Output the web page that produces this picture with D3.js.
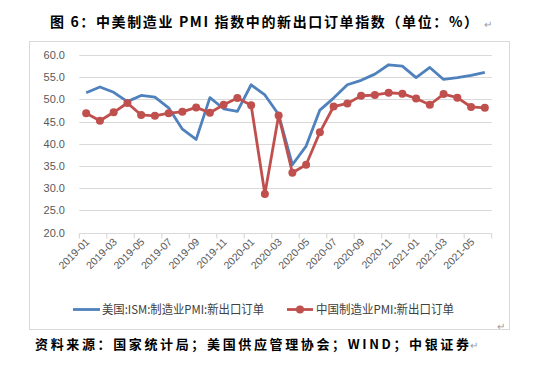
<!DOCTYPE html>
<html>
<head>
<meta charset="utf-8">
<script src="https://cdn.jsdelivr.net/npm/d3@7"></script>
<style>
  body { margin: 0; background: #fff; }
  svg { display: block; }
</style>
</head>
<body>
<div id="chart"></div>
<script>
// months 2019-01 .. 2021-06
var months = ["2019-01","2019-02","2019-03","2019-04","2019-05","2019-06","2019-07","2019-08","2019-09","2019-10","2019-11","2019-12",
              "2020-01","2020-02","2020-03","2020-04","2020-05","2020-06","2020-07","2020-08","2020-09","2020-10","2020-11","2020-12",
              "2021-01","2021-02","2021-03","2021-04","2021-05","2021-06"];

// US ISM manufacturing new export orders
var usValues = [51.5, 52.8, 51.6, 49.5, 50.9, 50.5, 48.1, 43.3, 41.0, 50.4, 47.9, 47.3,
                53.3, 51.0, 46.6, 35.3, 39.5, 47.6, 50.3, 53.3, 54.3, 55.7, 57.8, 57.5,
                54.9, 57.2, 54.5, 54.9, 55.4, 56.1];

// China manufacturing PMI new export orders
var cnValues = [46.9, 45.2, 47.1, 49.2, 46.5, 46.3, 46.9, 47.2, 48.2, 47.0, 48.8, 50.3,
                48.7, 28.7, 46.4, 33.5, 35.3, 42.6, 48.4, 49.1, 50.8, 51.0, 51.5, 51.3,
                50.2, 48.8, 51.2, 50.4, 48.3, 48.1];

var yTicks = [20, 25, 30, 35, 40, 45, 50, 55, 60];
var seriesNames = ["美国:ISM:制造业PMI:新出口订单", "中国制造业PMI:新出口订单"];

var blue = "#4F81BD", red = "#C0504D", grid = "#D9D9D9", axisText = "#595959";

var width = 536, height = 368;
var plot = { left: 79.3, right: 491.7, top: 55, bottom: 232.7 };

var svg = d3.select("#chart").append("svg")
    .attr("width", width)
    .attr("height", height)
    .style("font-family", "'Liberation Sans', Arial, sans-serif");

// title
svg.append("text")
    .attr("x", 50).attr("y", 27)
    .attr("textLength", 428).attr("lengthAdjust", "spacing")
    .style("font-family", "'Noto Sans CJK SC', sans-serif")
    .style("font-weight", "bold").style("font-size", "14px")
    .attr("fill", "#000")
    .text("图 6：中美制造业 PMI 指数中的新出口订单指数（单位：%）");
svg.append("text")
    .attr("x", 484).attr("y", 28)
    .style("font-size", "10px").attr("fill", "#999")
    .text("↵");

// chart frame
svg.append("rect")
    .attr("x", 29.5).attr("y", 41.5)
    .attr("width", 480).attr("height", 288)
    .attr("fill", "none").attr("stroke", grid);

// scales
var x = d3.scaleBand()
    .domain(months)
    .range([plot.left, plot.right])
    .padding(0);

var y = d3.scaleLinear()
    .domain([20, 60])
    .range([plot.bottom, plot.top]);

var cx = function(d, i) { return x(months[i]) + x.bandwidth() / 2; };

// gridlines
svg.append("g").selectAll("line")
    .data(yTicks.filter(function(t) { return t > 20; }))
    .join("line")
    .attr("x1", plot.left).attr("x2", plot.right)
    .attr("y1", function(d) { return Math.round(y(d)) + 0.5; })
    .attr("y2", function(d) { return Math.round(y(d)) + 0.5; })
    .attr("stroke", grid).attr("stroke-width", 1.2);

// y labels
svg.append("g").selectAll("text")
    .data(yTicks)
    .join("text")
    .attr("x", 65)
    .attr("y", function(d) { return y(d) + 4; })
    .attr("text-anchor", "end")
    .style("font-size", "11px")
    .attr("fill", axisText)
    .text(function(d) { return d3.format(".1f")(d); });

// x axis line and tick marks between categories
var axisY = Math.round(y(20)) + 0.5;
svg.append("line")
    .attr("x1", plot.left).attr("x2", plot.right)
    .attr("y1", axisY).attr("y2", axisY)
    .attr("stroke", grid).attr("stroke-width", 1.2);

var tickPos = months.filter(function(m, i) { return i % 2 === 0; })
    .map(function(m) { return x(m); })
    .concat([plot.right]);
svg.append("g").selectAll("line")
    .data(tickPos)
    .join("line")
    .attr("x1", function(d) { return d; }).attr("x2", function(d) { return d; })
    .attr("y1", axisY).attr("y2", axisY + 5)
    .attr("stroke", grid).attr("stroke-width", 1.2);

// x labels, every other month, rotated
svg.append("g").selectAll("text")
    .data(months.filter(function(m, i) { return i % 2 === 0; }))
    .join("text")
    .attr("transform", function(d) {
        return "translate(" + (x(d) + x.bandwidth() / 2 + 4) + "," + (axisY + 9) + ") rotate(-45)";
    })
    .attr("text-anchor", "end")
    .style("font-size", "10.5px")
    .attr("fill", axisText)
    .text(function(d) { return d; });

// lines
var line = d3.line()
    .x(function(d, i) { return cx(d, i); })
    .y(function(d) { return y(d); });

svg.append("path")
    .datum(usValues)
    .attr("d", line)
    .attr("fill", "none")
    .attr("stroke", blue)
    .attr("stroke-width", 2.8)
    .attr("stroke-linejoin", "round");

svg.append("path")
    .datum(cnValues)
    .attr("d", line)
    .attr("fill", "none")
    .attr("stroke", red)
    .attr("stroke-width", 2.8)
    .attr("stroke-linejoin", "round");

svg.append("g").selectAll("circle")
    .data(cnValues)
    .join("circle")
    .attr("cx", cx)
    .attr("cy", function(d) { return y(d); })
    .attr("r", 4)
    .attr("fill", red);

// legend
var legend = svg.append("g").style("font-size", "12px").attr("fill", axisText);
legend.append("line")
    .attr("x1", 73).attr("x2", 100).attr("y1", 309.5).attr("y2", 309.5)
    .attr("stroke", blue).attr("stroke-width", 2.8);
legend.append("text")
    .attr("x", 102).attr("y", 314)
    .attr("fill", "#404040")
    .style("font-family", "'Noto Sans CJK SC', sans-serif")
    .attr("textLength", 162).attr("lengthAdjust", "spacingAndGlyphs")
    .text(seriesNames[0]);
legend.append("line")
    .attr("x1", 287).attr("x2", 313).attr("y1", 309.5).attr("y2", 309.5)
    .attr("stroke", red).attr("stroke-width", 2.8);
legend.append("circle")
    .attr("cx", 300).attr("cy", 309.5).attr("r", 4).attr("fill", red);
legend.append("text")
    .attr("x", 316).attr("y", 314)
    .attr("fill", "#404040")
    .style("font-family", "'Noto Sans CJK SC', sans-serif")
    .attr("textLength", 138).attr("lengthAdjust", "spacingAndGlyphs")
    .text(seriesNames[1]);

svg.append("text")
    .attr("x", 497).attr("y", 330)
    .style("font-size", "10px").attr("fill", "#999")
    .text("↵");

// source note
svg.append("text")
    .attr("x", 35).attr("y", 349)
    .attr("textLength", 434).attr("lengthAdjust", "spacing")
    .style("font-family", "'Noto Sans CJK SC', sans-serif")
    .style("font-weight", "bold").style("font-size", "13px")
    .attr("fill", "#000")
    .text("资料来源：国家统计局；美国供应管理协会；WIND；中银证券");
svg.append("text")
    .attr("x", 470).attr("y", 349)
    .style("font-size", "10px").attr("fill", "#999")
    .text("↵");
</script>
</body>
</html>
